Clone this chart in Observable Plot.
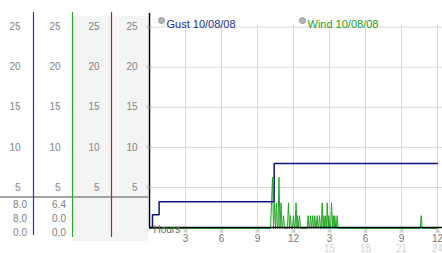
<!DOCTYPE html>
<html><head><meta charset="utf-8">
<script src="https://cdn.jsdelivr.net/npm/d3@7"></script>
<script src="https://cdn.jsdelivr.net/npm/@observablehq/plot@0.6"></script>
<style>
html,body{margin:0;padding:0;background:#fff;}
#chart{width:442px;height:253px;overflow:hidden;}
svg{display:block;}
</style></head><body><div id="chart"></div>
<script>
// ---- data ----
const yTicks = [5, 10, 15, 20, 25];
const xTicks = [3, 6, 9, 12, 15, 18, 21, 24];
const xTickLabels = ["3", "6", "9", "12", "3", "6", "9", "12"];
const xTickLabels2 = ["", "", "", "", "15", "18", "21", "24"];
const gustHours = [0, 0.25, 0.8, 10.39, 24];
const gustSpeeds = [0, 1.6, 3.2, 8.0, 8.0];
const windSpikeHours = [10.17, 10.25, 10.42, 10.58, 10.79, 10.96, 11.17, 11.58, 11.75, 12.0, 12.21, 12.33, 12.5,
  13.22, 13.42, 13.6, 13.77, 13.97, 14.17, 14.39, 14.53, 14.67, 14.81, 14.94, 15.17, 15.31, 15.44, 15.64, 22.64];
const windSpikeSpeeds = [3.2, 6.4, 3.2, 3.2, 6.4, 3.2, 1.6, 3.2, 1.6, 1.6, 3.2, 1.6, 1.6,
  1.6, 1.6, 1.6, 1.6, 1.6, 1.6, 3.2, 1.6, 1.6, 3.2, 1.6, 3.2, 1.6, 1.6, 1.6, 1.6];
const legendLabels = ["Gust 10/08/08", "Wind 10/08/08"];
const gustStats = ["8.0", "8.0", "0.0"];
const windStats = ["6.4", "0.0", "0.0"];

// ---- series tables ----
const gust = gustHours.map((h, i) => ({h, v: gustSpeeds[i]}));
const sample = 1 / 12; // 5-minute readings between spikes are zero
const wind = [{h: 0, v: 0}];
windSpikeHours.forEach((t, i) => {
  const prev = wind[wind.length - 1].h;
  if (t - sample > prev + 1e-6) wind.push({h: t - sample, v: 0});
  wind.push({h: t, v: windSpikeSpeeds[i]});
  const next = i + 1 < windSpikeHours.length ? windSpikeHours[i + 1] : 24;
  if (t + sample < next - 1e-6) wind.push({h: t + sample, v: 0});
});
wind.push({h: 24, v: 0});

const FONT = "'Liberation Sans', Arial, sans-serif";
const colDx = [-129, -89, -50, -12];

const chart = Plot.plot({
  width: 442, height: 253,
  marginLeft: 149, marginRight: 0, marginTop: 13, marginBottom: 26,
  style: {fontFamily: FONT, fontSize: "10px", background: "transparent", overflow: "visible"},
  x: {domain: [0, 24.417], axis: null},
  y: {domain: [0, 26.7], axis: null},
  marks: [
    Plot.ruleY(yTicks, {stroke: "#d9d9d9"}),
    Plot.ruleX(xTicks, {y1: 0, y2: 25.25, stroke: "#d9d9d9"}),
    Plot.line(wind, {x: "h", y: "v", stroke: "#22a622", strokeWidth: 1, dy: 1}),
    Plot.line(gust, {x: "h", y: "v", curve: "step-after", stroke: "#13137f", strokeWidth: 1.5}),
    Plot.ruleX([0], {y1: 0, y2: 26.7, stroke: "#000", strokeWidth: 1.5}),
    Plot.ruleY([0], {stroke: "#000", strokeWidth: 1.5}),
    // y tick marks and the four column labels
    Plot.text(yTicks, {y: d => d, frameAnchor: "left", dx: -4, text: () => "※", fontSize: 6, fill: "#999"}),
    ...colDx.map(dx => Plot.text(yTicks, {y: d => d, frameAnchor: "left", dx, textAnchor: "end", text: d => String(d), fill: "#858585", fontSize: 10})),
    // x ticks
    Plot.text(xTicks, {x: d => d, frameAnchor: "bottom", dy: 1.5, lineAnchor: "top", text: () => "※", fontSize: 6, fill: "#999"}),
    Plot.text(xTicks, {x: d => d, frameAnchor: "bottom", dy: 7.5, lineAnchor: "top", text: (d, i) => xTickLabels[i], fill: "#777", fontSize: 10}),
    Plot.text(xTicks, {x: d => d, frameAnchor: "bottom", dy: 17, lineAnchor: "top", text: (d, i) => xTickLabels2[i], fill: "#d4d4d4", fontSize: 10}),
    Plot.text(["Hours"], {frameAnchor: "bottom-left", dx: 4, dy: 5, textAnchor: "start", fill: "#666", fontSize: 10}),
    // legend
    Plot.dot([0], {frameAnchor: "top-left", dx: 12, dy: 7, r: 3, fill: "#b5b5b5", stroke: "#8a8a8a", strokeWidth: 0.8}),
    Plot.text([legendLabels[0]], {frameAnchor: "top-left", dx: 17, dy: 7, textAnchor: "start", fill: "#1c2f9a", fontSize: 11}),
    Plot.dot([0], {frameAnchor: "top-left", dx: 153, dy: 7, r: 3, fill: "#b5b5b5", stroke: "#8a8a8a", strokeWidth: 0.8}),
    Plot.text([legendLabels[1]], {frameAnchor: "top-left", dx: 158, dy: 7, textAnchor: "start", fill: "#22a022", fontSize: 11})
  ]
});

// left panel decorations
const svg = d3.select(chart);
const g = svg.insert("g", ":first-child");
g.append("rect").attr("x", 72).attr("y", 16).attr("width", 76).attr("height", 225).attr("fill", "#f4f4f4");
g.append("line").attr("x1", 0).attr("x2", 148).attr("y1", 197).attr("y2", 197).attr("stroke", "#a3a3a3").attr("stroke-width", 2);
[[33.5, 235, "#1c3cb8"], [72.5, 237, "#2ea82e"], [111.5, 237, "#c41e1e"]].forEach(([x, y2, c]) => {
  g.append("line").attr("x1", x).attr("x2", x).attr("y1", 12).attr("y2", y2)
    .style("stroke", c).style("stroke-width", "1.2px");
});
const statY = [204, 218, 232];
[[gustStats, 27], [windStats, 66]].forEach(([vals, xr]) => {
  vals.forEach((v, i) => {
    g.append("text").attr("x", xr).attr("y", statY[i]).attr("dy", "0.35em").attr("text-anchor", "end")
      .attr("font-family", FONT).attr("font-size", 10).attr("fill", "#808080").text(v);
  });
});

document.getElementById("chart").append(chart);
</script>
</body></html>
